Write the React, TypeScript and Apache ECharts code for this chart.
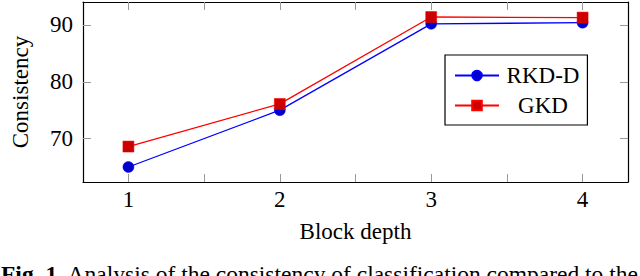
import React, { useEffect, useRef } from "react";
import * as echarts from "echarts";

const blockDepths = [1, 2, 3, 4];
const rkdD = [65.0, 75.0, 90.2, 90.4];
const gkd = [68.6, 76.1, 91.4, 91.3];
const yTicks = [70, 80, 90];
const xTickLabels = [1, 2, 3, 4];
const xTickMarks = [1, 1.5, 2, 2.5, 3, 3.5, 4];
const captionBold = "Fig. 1.";
const captionText = "Analysis of the consistency of classification compared to the";

const FONT = "Liberation Serif";
const FS = 23;

export default function App() {
  const ref = useRef<HTMLDivElement>(null);
  useEffect(() => {
    if (!ref.current) return;
    const chart = echarts.init(ref.current, undefined, { renderer: "svg" });
    const tickStyle = { show: true, inside: true, length: 8, lineStyle: { color: "#999", width: 1 } };
    const xBase = {
      type: "value" as const,
      min: 0.7,
      max: 4.3,
      splitLine: { show: false },
      axisLine: { show: true, lineStyle: { color: "#000", width: 1.2 } },
    };
    const yBase = {
      type: "value" as const,
      min: 62.36,
      max: 94.04,
      splitLine: { show: false },
      axisLine: { show: true, lineStyle: { color: "#000", width: 1.2 } },
    };
    chart.setOption({
      animation: false,
      backgroundColor: "#fff",
      textStyle: { fontFamily: FONT },
      grid: { left: 83, top: 2, width: 545, height: 180, show: false },
      xAxis: [
        {
          ...xBase,
          position: "bottom",
          name: "Block depth",
          nameLocation: "middle",
          nameGap: 38,
          nameTextStyle: { fontFamily: FONT, fontSize: FS, color: "#000" },
          axisTick: { ...tickStyle, customValues: xTickMarks },
          axisLabel: {
            customValues: xTickLabels,
            fontFamily: FONT,
            fontSize: FS,
            color: "#000",
            margin: 6,
          },
        },
        {
          ...xBase,
          position: "top",
          axisTick: { ...tickStyle, customValues: xTickMarks },
          axisLabel: { show: false },
        },
      ],
      yAxis: [
        {
          ...yBase,
          position: "left",
          name: "Consistency",
          nameLocation: "middle",
          nameGap: 51,
          nameTextStyle: { fontFamily: FONT, fontSize: FS, color: "#000" },
          axisTick: { ...tickStyle, customValues: yTicks },
          axisLabel: {
            customValues: yTicks,
            fontFamily: FONT,
            fontSize: FS,
            color: "#000",
            margin: 10,
          },
        },
        {
          ...yBase,
          position: "right",
          axisTick: { ...tickStyle, customValues: yTicks },
          axisLabel: { show: false },
        },
      ],
      legend: {
        orient: "vertical",
        left: 445,
        top: 55,
        width: 148,
        padding: [9, 8, 8, 9],
        itemGap: 7,
        itemWidth: 44,
        itemHeight: 12,
        borderColor: "#000",
        borderWidth: 1.2,
        backgroundColor: "#fff",
        formatter: (n: string) => `{t|${n}}`,
        textStyle: {
          fontFamily: FONT,
          fontSize: FS,
          color: "#000",
          rich: { t: { fontFamily: FONT, fontSize: FS, width: 78, align: "center", color: "#000" } },
        },
        data: ["RKD-D", "GKD"],
      },
      graphic: [
        {
          type: "text",
          left: 1,
          top: 262,
          style: {
            text: `{b|${captionBold}} ${captionText}`,
            fontFamily: FONT,
            fontSize: 23.5,
            fill: "#000",
            rich: {
              b: { fontFamily: FONT, fontSize: 23.5, fontWeight: "bold", fill: "#000" },
            },
          },
        },
      ],
      series: [
        {
          name: "RKD-D",
          type: "line",
          data: blockDepths.map((x, i) => [x, rkdD[i]]),
          symbol: "circle",
          symbolSize: 11,
          lineStyle: { color: "#0000ff", width: 1.3 },
          itemStyle: { color: "#0000cc", borderColor: "#0000ff", borderWidth: 0.5 },
          z: 3,
        },
        {
          name: "GKD",
          type: "line",
          data: blockDepths.map((x, i) => [x, gkd[i]]),
          symbol: "rect",
          symbolSize: 11,
          lineStyle: { color: "#ff0000", width: 1.3 },
          itemStyle: { color: "#cc0000", borderColor: "#ff0000", borderWidth: 0.5 },
          z: 4,
        },
      ],
    });
    return () => chart.dispose();
  }, []);
  return <div ref={ref} style={{ width: 640, height: 276, position: "absolute", left: 0, top: 0 }} />;
}
